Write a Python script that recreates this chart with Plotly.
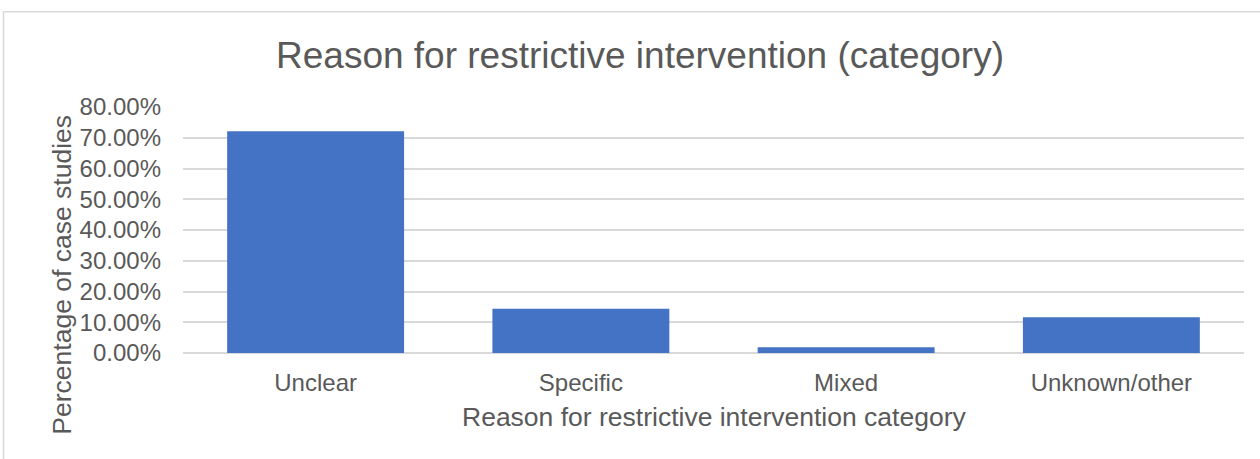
import plotly.graph_objects as go

categories = ["Unclear", "Specific", "Mixed", "Unknown/other"]
percentages = [0.721, 0.144, 0.019, 0.116]
y_ticks = [0, 0.1, 0.2, 0.3, 0.4, 0.5, 0.6, 0.7, 0.8]

grey = "#595959"
font_name = "Liberation Sans, Arial, sans-serif"

# plot area in pixels: x 183..1244, y 107..353.5
W, H = 1260, 459
L, R, T, B = 183, 16, 107, 105.5
pw = W - L - R
ph = H - T - B


def px_x(x):
    return (x - L) / pw


def px_y(y):
    return (H - B - y) / ph


bars = go.Bar(x=categories, y=percentages, marker=dict(color="#4472C4", line=dict(width=0)),
              hoverinfo="x+y")

fig = go.Figure(data=[bars])

fig.update_layout(
    width=W, height=H,
    margin=dict(l=L, r=R, t=T, b=B),
    paper_bgcolor="white", plot_bgcolor="white",
    font=dict(family=font_name, color=grey, size=24),
    bargap=0.333,
    showlegend=False,
)

fig.update_xaxes(showgrid=False, showline=False, zeroline=False,
                 tickfont=dict(size=24, color=grey), ticks="", ticklabelstandoff=13)
fig.update_yaxes(range=[0, 0.8], tickvals=y_ticks, tickformat=".2%",
                 showgrid=True, gridcolor="#d9d9d9", gridwidth=1.5,
                 zeroline=True, zerolinecolor="#d9d9d9", zerolinewidth=1.5,
                 showline=False, ticks="", ticklabelstandoff=21,
                 tickfont=dict(size=24, color=grey))

# chart title and axis titles
fig.add_annotation(text="Reason for restrictive intervention (category)",
                   x=px_x(640), y=px_y(55), xref="paper", yref="paper",
                   xanchor="center", yanchor="middle",
                   showarrow=False, font=dict(size=37, color=grey))
fig.add_annotation(text="Reason for restrictive intervention category",
                   x=px_x(714), y=px_y(418), xref="paper", yref="paper",
                   xanchor="center", yanchor="middle",
                   showarrow=False, font=dict(size=26.5, color=grey))
fig.add_annotation(text="Percentage of case studies",
                   x=px_x(62), y=px_y(275), xref="paper", yref="paper",
                   xanchor="center", yanchor="middle",
                   showarrow=False, textangle=-90, font=dict(size=26.5, color=grey))

# outer chart border
fig.add_shape(type="rect", xref="paper", yref="paper",
              x0=px_x(3.5), x1=px_x(1263), y0=px_y(465), y1=px_y(11.5),
              line=dict(color="#d9d9d9", width=1.5), fillcolor="rgba(0,0,0,0)", layer="below")

fig.write_html("out.html", config={"displayModeBar": False},
               post_script="document.body.style.margin='0';")
